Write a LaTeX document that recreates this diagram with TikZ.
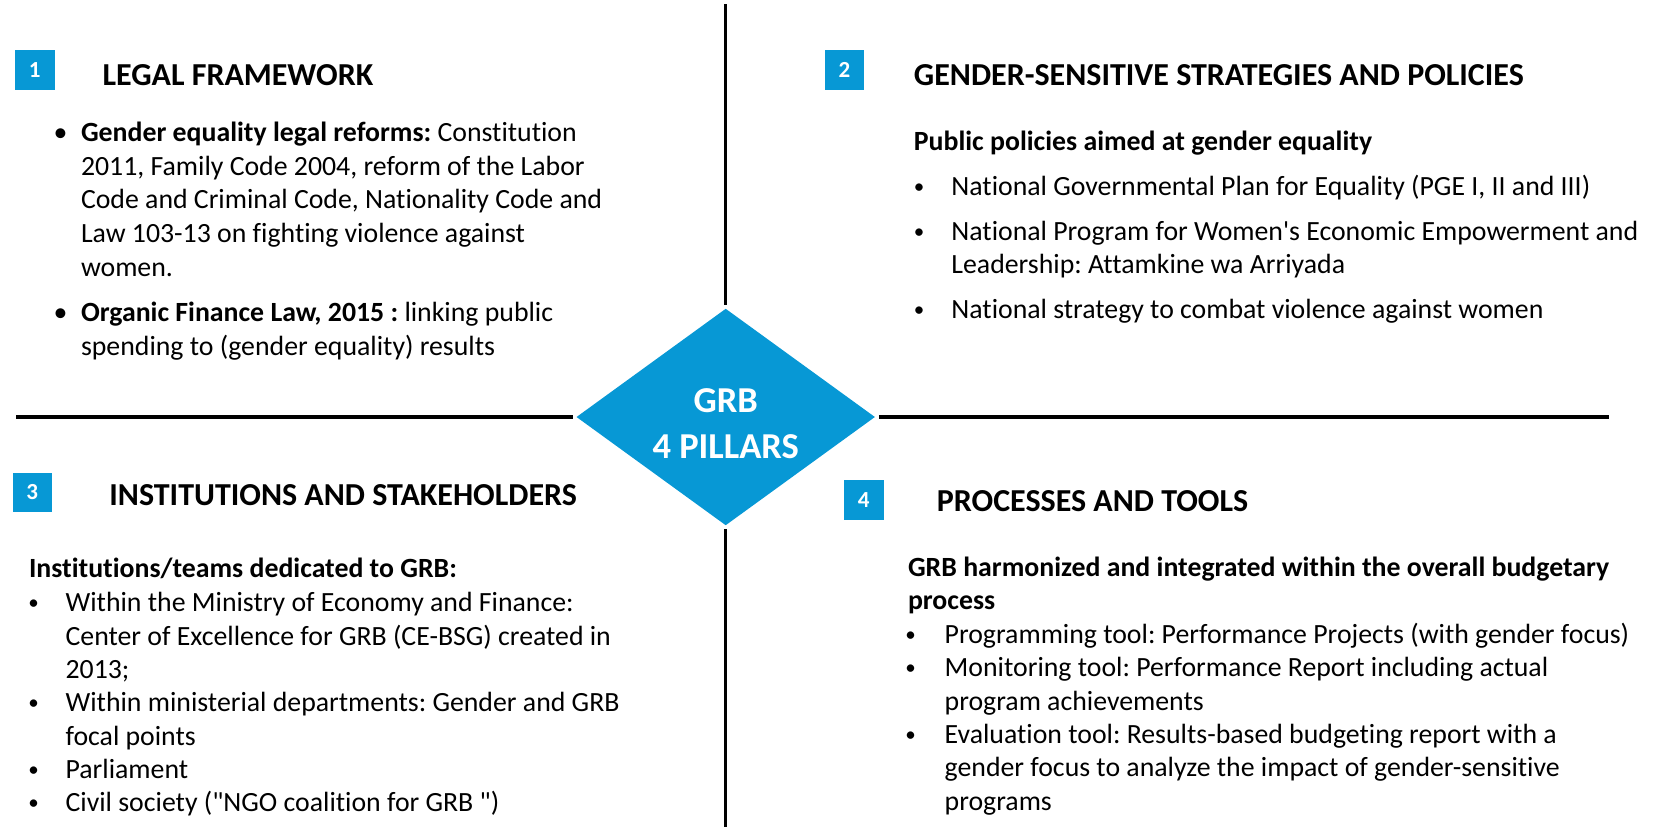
\documentclass[tikz,border=0pt]{standalone}
\usepackage{fontspec}
\setmainfont[Ligatures={CommonOff,TeXOff}]{Carlito}
\usetikzlibrary{shapes.geometric}
\definecolor{grbblue}{HTML}{0798D5}
\frenchspacing
\begin{document}
\begin{tikzpicture}[x=1pt,y=-1pt,
  body/.style={anchor=base west, inner sep=0pt, outer sep=0pt, font=\fontsize{27.8}{33.4}\selectfont\frenchspacing},
  bhead/.style={body, font=\fontsize{27.8}{33.4}\selectfont\bfseries\frenchspacing},
  ttl/.style={anchor=base west, inner sep=0pt, outer sep=0pt, font=\fontsize{32}{36}\selectfont\bfseries},
  bdot/.style={anchor=base, inner sep=0pt, outer sep=0pt, font=\fontsize{27.8}{33.4}\selectfont},
  sdot/.style={anchor=base, inner sep=0pt, outer sep=0pt, font=\fontsize{21}{24}\selectfont},
  badge/.style={fill=grbblue, text=white, font=\fontsize{23}{24}\selectfont\bfseries, inner sep=0pt, outer sep=0pt},
  sep/.style={line width=3.3pt, black},
  ctr/.style={text=white, font=\fontsize{36.5}{40}\selectfont\bfseries, inner sep=0pt, anchor=base}]
\useasboundingbox (0,0) rectangle (1661,827);

% centre diamond and separators
\node[diamond, fill=grbblue, minimum width=298.3pt, minimum height=216.4pt, inner sep=0pt, outer sep=0pt] (grb) at (725.7,417) {};
\node[ctr] (grb1) at (725.7,412.7) {GRB};
\node[ctr] (grb2) at (725.7,458.3) {4 PILLARS};
\coordinate (topend) at (725.7,4);
\coordinate (botend) at (725.7,827);
\coordinate (lend) at (16,417);
\coordinate (rend) at (1609,417);
\draw[sep, shorten >=4pt] (topend) -- (grb.north);
\draw[sep, shorten <=4pt] (grb.south) -- (botend);
\draw[sep, shorten >=4pt] (lend) -- (grb.west);
\draw[sep, shorten <=4pt] (grb.east) -- (rend);

% badges
\path[badge] (14.5,50) rectangle (54.7,90);
\node[badge] (n1) at (34.6,70) {1};
\path[badge] (825,50) rectangle (864,90);
\node[badge] (n2) at (844.5,70) {2};
\path[badge] (12.5,473) rectangle (52,512);
\node[badge] (n3) at (32.2,492.5) {3};
\path[badge] (844,480) rectangle (883.5,520);
\node[badge] (n4) at (863.7,500) {4};

% quadrant 1
\node[ttl] (t1) at (102.6,85) {LEGAL FRAMEWORK};
\node[bdot] (d1a) at (60.5,141.7) {•};
\node[body] (q1a) at (81,141.7) {\textbf{Gender equality legal reforms:} Constitution};
\node[body] (q1b) at (81,175.3) {2011, Family Code 2004, reform of the Labor};
\node[body] (q1c) at (81,208.9) {Code and Criminal Code, Nationality Code and};
\node[body] (q1d) at (81,242.5) {Law 103-13 on fighting violence against};
\node[body] (q1e) at (81,276.1) {women.};
\node[bdot] (d1b) at (60.5,321.7) {•};
\node[body] (q1f) at (81,321.7) {\textbf{Organic Finance Law, 2015 :} linking public};
\node[body] (q1g) at (81,355.3) {spending to (gender equality) results};

% quadrant 2
\node[ttl] (t2) at (913.9,85) {GENDER-SENSITIVE STRATEGIES AND POLICIES};
\node[bhead] (h2) at (913.9,150) {Public policies aimed at gender equality};
\node[sdot] (d2a) at (919,193) {•};
\node[body] (q2a) at (951.4,195) {National Governmental Plan for Equality (PGE I, II and III)};
\node[sdot] (d2b) at (919,238) {•};
\node[body] (q2b) at (951.4,240) {National Program for Women's Economic Empowerment and};
\node[body] (q2c) at (951.4,273.3) {Leadership: Attamkine wa Arriyada};
\node[sdot] (d2c) at (919,316.3) {•};
\node[body] (q2d) at (951.4,318.3) {National strategy to combat violence against women};

% quadrant 3
\node[ttl] (t3) at (109.4,505.7) {INSTITUTIONS AND STAKEHOLDERS};
\node[bhead] (h3) at (29,577.3) {Institutions/teams dedicated to GRB:};
\node[sdot] (d3a) at (33.5,609.7) {•};
\node[body] (q3a) at (65.6,611.7) {Within the Ministry of Economy and Finance:};
\node[body] (q3b) at (65.6,645) {Center of Excellence for GRB (CE-BSG) created in};
\node[body] (q3c) at (65.6,678.3) {2013;};
\node[sdot] (d3b) at (33.5,709.7) {•};
\node[body] (q3d) at (65.6,711.7) {Within ministerial departments: Gender and GRB};
\node[body] (q3e) at (65.6,745) {focal points};
\node[sdot] (d3c) at (33.5,776.3) {•};
\node[body] (q3f) at (65.6,778.3) {Parliament};
\node[sdot] (d3d) at (33.5,809.7) {•};
\node[body] (q3g) at (65.6,811.7) {Civil society ("NGO coalition for GRB ")};

% quadrant 4
\node[ttl] (t4) at (936.9,511.7) {PROCESSES AND TOOLS};
\node[bhead] (h4a) at (908,576) {GRB harmonized and integrated within the overall budgetary};
\node[bhead] (h4b) at (908,609.3) {process};
\node[sdot] (d4a) at (910.7,641.3) {•};
\node[body] (q4a) at (944.7,643.3) {Programming tool: Performance Projects (with gender focus)};
\node[sdot] (d4b) at (910.7,674.7) {•};
\node[body] (q4b) at (944.7,676.7) {Monitoring tool: Performance Report including actual};
\node[body] (q4c) at (944.7,710) {program achievements};
\node[sdot] (d4c) at (910.7,741.3) {•};
\node[body] (q4d) at (944.7,743.3) {Evaluation tool: Results-based budgeting report with a};
\node[body] (q4e) at (944.7,776.7) {gender focus to analyze the impact of gender-sensitive};
\node[body] (q4f) at (944.7,810) {programs};
\end{tikzpicture}
\end{document}
